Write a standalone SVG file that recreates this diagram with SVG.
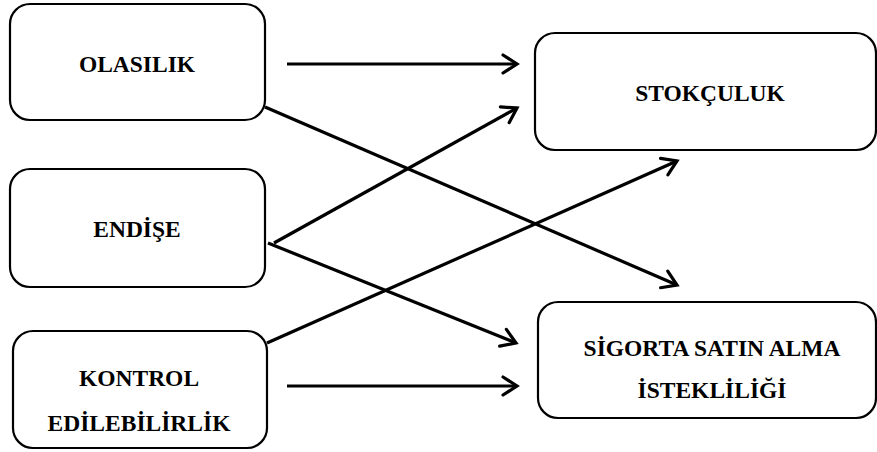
<svg xmlns="http://www.w3.org/2000/svg" width="877" height="452" viewBox="0 0 877 452">
<defs>
<style>
.box{fill:#fff;stroke:#000;stroke-width:2.2}
.lbl{font-family:"Liberation Serif","Times New Roman",serif;font-weight:bold;font-size:23.5px;text-anchor:middle;fill:#000}
.con{stroke:#000;stroke-width:3.2;fill:none;marker-end:url(#arr)}
</style>
<marker id="arr" markerUnits="userSpaceOnUse" markerWidth="24" markerHeight="24" viewBox="-16 -12 20 24" refX="0" refY="0" orient="auto">
<path d="M-14,-9 L0,0 L-14,9" fill="none" stroke="#000" stroke-width="3.2" stroke-linecap="round" stroke-linejoin="miter"/>
</marker>
</defs>
<rect width="877" height="452" fill="#fff"/>
<g id="connectors">
<path class="con" d="M287,64 L517,64"/>
<path class="con" d="M287,386 L517,386"/>
<path class="con" d="M265,107 L677,285"/>
<path class="con" d="M274,243 L517,108"/>
<path class="con" d="M268,243 L516,343"/>
<path class="con" d="M267,343 L677,161"/>
</g>
<g id="olasilik">
<rect class="box" x="10" y="4" width="255" height="116" rx="20"/>
<text class="lbl" x="137" y="72">OLASILIK</text>
</g>
<g id="endise">
<rect class="box" x="10" y="169" width="255" height="118" rx="20"/>
<text class="lbl" x="137" y="237">ENDİŞE</text>
</g>
<g id="kontrol">
<rect class="box" x="13" y="331" width="254" height="117" rx="20"/>
<text class="lbl" x="139" y="386">KONTROL</text>
<text class="lbl" x="139" y="431">EDİLEBİLİRLİK</text>
</g>
<g id="stokculuk">
<rect class="box" x="535" y="33" width="341" height="117" rx="20"/>
<text class="lbl" x="710" y="101">STOKÇULUK</text>
</g>
<g id="sigorta">
<rect class="box" x="538" y="302" width="338" height="116" rx="20"/>
<text class="lbl" x="712" y="356">SİGORTA SATIN ALMA</text>
<text class="lbl" x="712" y="398">İSTEKLİLİĞİ</text>
</g>
</svg>
